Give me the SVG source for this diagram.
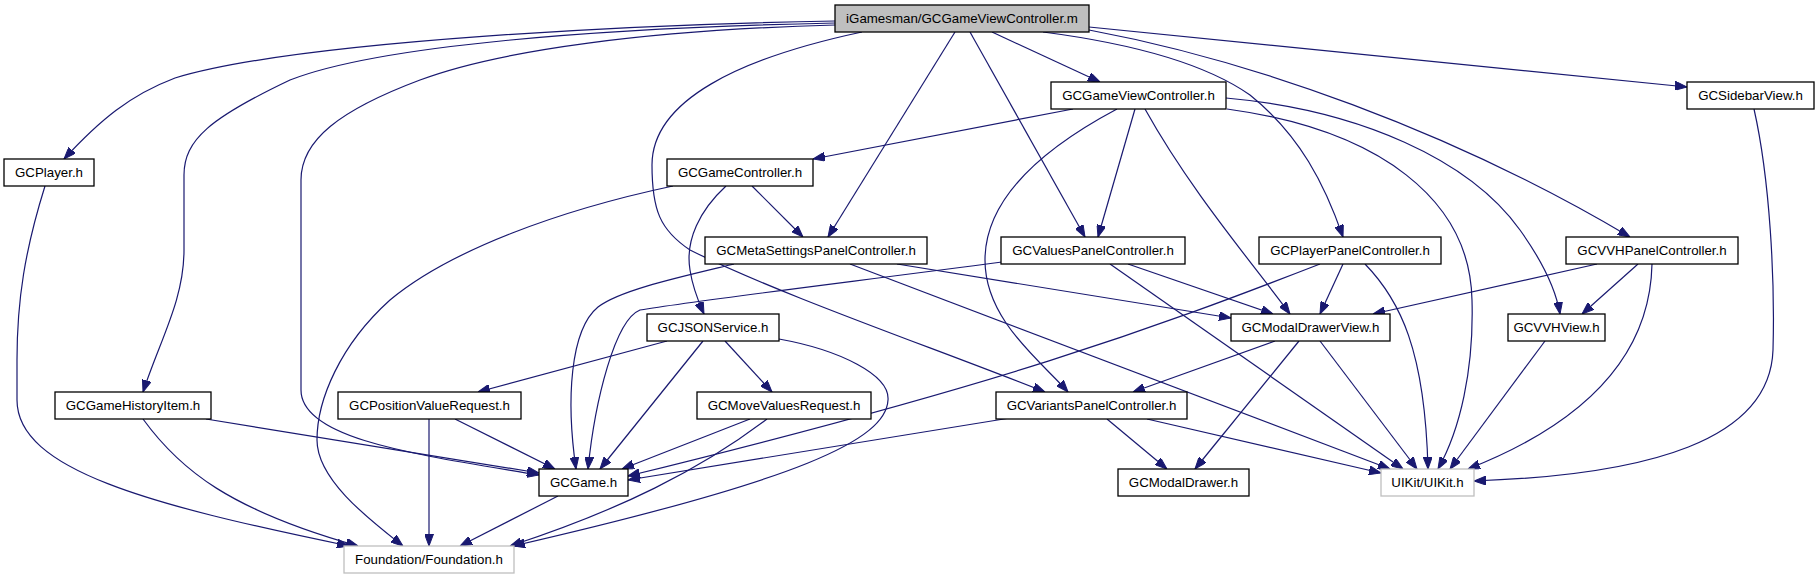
<svg xmlns="http://www.w3.org/2000/svg" width="1820" height="581" viewBox="0 0 1820 581">
<style>
.n rect{fill:#ffffff;stroke:#000000;stroke-width:1.3}
.n.root rect{fill:#bfbfbf}
.n.ext rect{stroke:#bfbfbf}
.n text{font-family:"Liberation Sans",Arial,Helvetica,sans-serif;font-size:13.3px;text-anchor:middle;fill:#000000}
#edges path{fill:none;stroke:#191970;stroke-width:1.2;marker-end:url(#ah)}
</style>
<defs>
<marker id="ah" viewBox="0 0 12 9" refX="12" refY="4.5" markerWidth="12" markerHeight="9" markerUnits="userSpaceOnUse" orient="auto">
<path d="M0,0 L12,4.5 L0,9 z" fill="#191970" stroke="#191970" stroke-width="1"/>
</marker>
</defs>
<rect width="1820" height="581" fill="#ffffff"/>
<g id="edges">
<!-- root -->
<path d="M835,21 C650,24 300,40 175,78 C130,95 100,120 64,159"/>
<path d="M835,23 C600,28 380,45 290,80 C210,118 184,140 184,175 L184,250 C184,300 160,340 143,392"/>
<path d="M835,25 C650,30 500,50 420,80 C340,110 301,140 301,180 L301,390 C301,440 420,455 539,475"/>
<path d="M862,32 C740,58 652,100 652,165 C652,210 660,230 690,250 C780,295 940,350 1045,392"/>
<path d="M955,32 L828,237"/>
<path d="M970,32 L1085,237"/>
<path d="M992,32 L1100,82"/>
<path d="M1043,32 C1120,42 1200,60 1250,95 C1300,135 1325,185 1343,237"/>
<path d="M1089,30 C1250,60 1450,130 1630,237"/>
<path d="M1089,27 L1687,87"/>
<!-- GCGameViewController.h -->
<path d="M1073,109 L813,159"/>
<path d="M1135,109 L1098,237"/>
<path d="M1145,109 C1190,190 1250,260 1290,314"/>
<path d="M1117,109 C1040,150 985,200 985,260 C985,320 1040,360 1068,392"/>
<path d="M1226,98 C1360,110 1470,160 1520,230 C1545,265 1556,290 1560,314"/>
<path d="M1227,109 C1380,130 1470,200 1472,300 C1474,370 1460,430 1438,469"/>
<!-- GCGameController.h -->
<path d="M752,186 L803,237"/>
<path d="M726,186 C700,210 685,240 690,270 C693,290 700,305 704,314"/>
<path d="M673,186 C560,210 450,250 390,300 C340,345 317,400 317,440 C317,480 370,520 403,546"/>
<!-- GCMetaSettingsPanelController.h -->
<path d="M734,264 C680,277 620,290 598,307 C570,330 566,400 576,469"/>
<path d="M897,264 L1231,318"/>
<path d="M850,264 L1390,469"/>
<!-- GCValuesPanelController.h -->
<path d="M1002,262 C850,282 700,300 640,310 C615,320 595,400 588,469"/>
<path d="M1128,264 L1273,314"/>
<path d="M1110,264 L1403,469"/>
<!-- GCPlayerPanelController.h -->
<path d="M1343,264 L1320,314"/>
<path d="M1320,264 C1150,330 1000,385 628,476"/>
<path d="M1365,264 C1400,300 1425,350 1428,469"/>
<!-- GCModalDrawerView.h -->
<path d="M1275,341 L1133,392"/>
<path d="M1299,341 L1195,469"/>
<path d="M1320,341 L1417,469"/>
<!-- GCVariantsPanelController.h -->
<path d="M1010,418 L628,480"/>
<path d="M1107,419 L1167,469"/>
<path d="M1147,419 L1381,473"/>
<!-- GCVVHPanelController.h -->
<path d="M1597,264 L1373,314"/>
<path d="M1638,264 L1582,314"/>
<path d="M1652,264 C1650,360 1580,425 1468,469"/>
<!-- GCVVHView.h -->
<path d="M1545,341 L1450,469"/>
<!-- GCSidebarView.h -->
<path d="M1754,109 C1770,180 1775,280 1773,350 C1770,440 1650,475 1474,481"/>
<!-- GCPlayer.h -->
<path d="M45,186 C25,250 17,300 17,360 L17,400 C17,470 150,505 349,546"/>
<!-- GCGameHistoryItem.h -->
<path d="M143,419 C180,470 230,510 358,546"/>
<path d="M206,419 L539,473"/>
<!-- GCJSONService.h -->
<path d="M667,341 L478,392"/>
<path d="M703,341 L600,469"/>
<path d="M725,341 L772,392"/>
<path d="M779,339 C840,350 890,375 888,400 C886,440 800,480 513,546"/>
<!-- GCPositionValueRequest.h -->
<path d="M429,419 L429,546"/>
<path d="M455,419 L555,469"/>
<!-- GCMoveValuesRequest.h -->
<path d="M750,419 L622,469"/>
<path d="M767,419 C700,470 620,510 510,546"/>
<!-- GCGame.h -->
<path d="M558,496 L460,546"/>
</g>
<g id="root" class="n root"><rect x="835" y="5" width="254" height="27"/><text x="962" y="23">iGamesman/GCGameViewController.m</text></g>
<g id="GCPlayer_h" class="n"><rect x="4" y="159" width="90" height="27"/><text x="49" y="177">GCPlayer.h</text></g>
<g id="GCGameHistoryItem_h" class="n"><rect x="55" y="392" width="156" height="27"/><text x="133" y="410">GCGameHistoryItem.h</text></g>
<g id="GCGame_h" class="n"><rect x="539" y="469" width="89" height="27"/><text x="583.5" y="487">GCGame.h</text></g>
<g id="Foundation_h" class="n ext"><rect x="344" y="546" width="170" height="27"/><text x="429" y="564">Foundation/Foundation.h</text></g>
<g id="GCGameController_h" class="n"><rect x="667" y="159" width="146" height="27"/><text x="740" y="177">GCGameController.h</text></g>
<g id="GCMetaSettingsPanelController_h" class="n"><rect x="705" y="237" width="222" height="27"/><text x="816" y="255">GCMetaSettingsPanelController.h</text></g>
<g id="GCJSONService_h" class="n"><rect x="647" y="314" width="132" height="27"/><text x="713" y="332">GCJSONService.h</text></g>
<g id="GCPositionValueRequest_h" class="n"><rect x="338" y="392" width="183" height="27"/><text x="429.5" y="410">GCPositionValueRequest.h</text></g>
<g id="GCMoveValuesRequest_h" class="n"><rect x="697" y="392" width="174" height="27"/><text x="784" y="410">GCMoveValuesRequest.h</text></g>
<g id="GCValuesPanelController_h" class="n"><rect x="1001" y="237" width="184" height="27"/><text x="1093" y="255">GCValuesPanelController.h</text></g>
<g id="GCGameViewController_h" class="n"><rect x="1051" y="82" width="175" height="27"/><text x="1138.5" y="100">GCGameViewController.h</text></g>
<g id="GCPlayerPanelController_h" class="n"><rect x="1259" y="237" width="182" height="27"/><text x="1350" y="255">GCPlayerPanelController.h</text></g>
<g id="GCModalDrawerView_h" class="n"><rect x="1231" y="314" width="159" height="27"/><text x="1310.5" y="332">GCModalDrawerView.h</text></g>
<g id="GCVariantsPanelController_h" class="n"><rect x="996" y="392" width="191" height="27"/><text x="1091.5" y="410">GCVariantsPanelController.h</text></g>
<g id="GCModalDrawer_h" class="n"><rect x="1118" y="469" width="131" height="27"/><text x="1183.5" y="487">GCModalDrawer.h</text></g>
<g id="UIKit_h" class="n ext"><rect x="1381" y="469" width="93" height="27"/><text x="1427.5" y="487">UIKit/UIKit.h</text></g>
<g id="GCSidebarView_h" class="n"><rect x="1687" y="82" width="127" height="27"/><text x="1750.5" y="100">GCSidebarView.h</text></g>
<g id="GCVVHPanelController_h" class="n"><rect x="1566" y="237" width="172" height="27"/><text x="1652" y="255">GCVVHPanelController.h</text></g>
<g id="GCVVHView_h" class="n"><rect x="1508" y="314" width="97" height="27"/><text x="1556.5" y="332">GCVVHView.h</text></g>
</svg>
